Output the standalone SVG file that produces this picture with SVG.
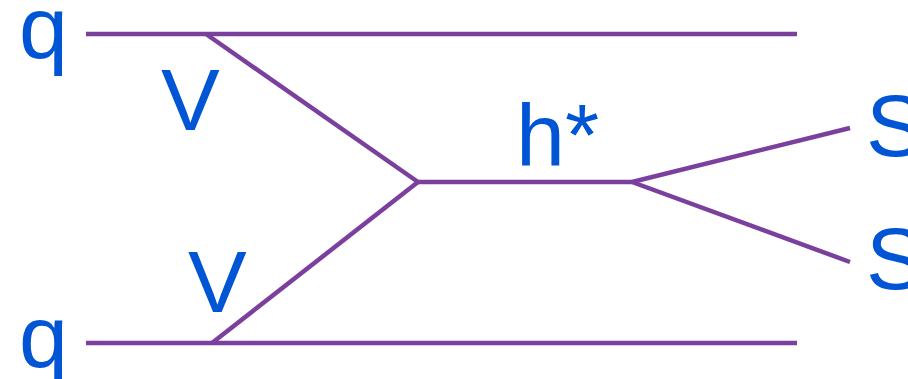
<svg xmlns="http://www.w3.org/2000/svg" width="908" height="379" viewBox="0 0 908 379">
<style>
.l{stroke:#7b3f9e;stroke-width:4.5;fill:none;stroke-linecap:butt}
.t{font-family:"Liberation Sans",Arial,sans-serif;font-size:88px;fill:#0055d4}
</style>
<rect width="908" height="379" fill="#fff"/>
<g id="connectors">
<line class="l" x1="86" y1="34" x2="797" y2="34"/>
<line class="l" x1="86" y1="343" x2="797" y2="343"/>
<line class="l" x1="206" y1="34" x2="418" y2="182"/>
<line class="l" x1="212" y1="343" x2="418" y2="182"/>
<line class="l" x1="416" y1="182" x2="632" y2="182"/>
<line class="l" x1="632" y1="182" x2="850" y2="128"/>
<line class="l" x1="632" y1="182" x2="850" y2="262"/>
</g>
<g id="q1"><text class="t" x="19" y="58">q</text></g>
<g id="q2"><text class="t" x="19" y="367">q</text></g>
<g id="V1"><text class="t" x="161" y="130">V</text></g>
<g id="V2"><text class="t" x="188" y="312">V</text></g>
<g id="h"><text class="t" x="516" y="165">h*</text></g>
<g id="S1"><text class="t" x="866" y="156">S</text></g>
<g id="S2"><text class="t" x="866" y="289">S</text></g>
</svg>
